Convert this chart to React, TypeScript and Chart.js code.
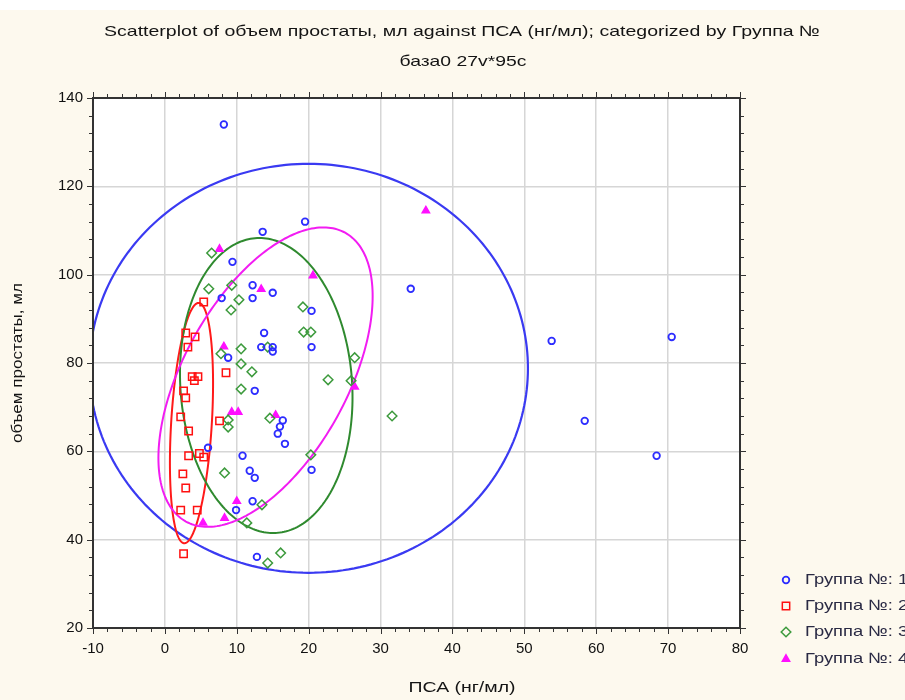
import React, { useEffect, useRef } from 'react';
import { Chart, registerables } from 'chart.js';

Chart.register(...registerables);

// ---------- data ----------
const titleLine1 = 'Scatterplot of объем простаты, мл against ПСА (нг/мл); categorized by Группа №';
const titleLine2 = 'база0 27v*95c';
const xAxisTitle = 'ПСА (нг/мл)';
const yAxisTitle = 'объем простаты, мл';
const groupLabels = ['Группа №: 1', 'Группа №: 2', 'Группа №: 3', 'Группа №: 4'];

const xAxisRange = [-10, 80];
const yAxisRange = [20, 140];
const xTickStep = 10;
const yTickStep = 20;

const group1X = [8.2, 19.5, 13.6, 9.4, 12.2, 12.2, 15.0, 7.9, 34.2, 53.8, 70.5, 13.8, 13.4, 15.0, 15.0, 20.4, 20.4, 8.8, 12.5, 58.4, 68.4, 16.4, 16.0, 15.7, 16.7, 20.4, 6.0, 10.8, 11.8, 12.5, 12.2, 9.9, 12.8];
const group1Y = [134, 112, 109.7, 102.9, 97.6, 94.7, 95.9, 94.7, 96.8, 85.0, 85.9, 86.8, 83.6, 83.6, 82.6, 91.8, 83.6, 81.2, 73.7, 66.9, 59.0, 67.0, 65.6, 64.0, 61.7, 55.8, 60.8, 59.0, 55.6, 54.0, 48.7, 46.7, 36.1];

const group2X = [5.4, 2.9, 4.2, 3.2, 3.8, 4.6, 4.1, 8.5, 2.6, 2.9, 2.2, 7.6, 3.3, 3.3, 4.8, 5.4, 2.5, 2.9, 2.2, 4.5, 2.6];
const group2Y = [93.8, 86.8, 85.9, 83.6, 76.9, 76.9, 76.0, 77.8, 73.7, 72.1, 67.8, 66.9, 64.6, 59.0, 59.5, 58.7, 54.9, 51.7, 46.7, 46.7, 36.8];

const group3X = [6.5, 6.1, 9.3, 10.3, 9.2, 10.6, 7.8, 10.6, 12.1, 10.6, 8.8, 8.8, 14.6, 8.3, 13.5, 11.4, 16.1, 14.3, 19.2, 19.3, 20.3, 14.3, 26.4, 22.7, 25.9, 31.6, 20.3];
const group3Y = [104.9, 96.8, 97.6, 94.3, 92.0, 83.2, 82.1, 79.8, 78.0, 74.1, 67.1, 65.5, 67.5, 55.1, 47.9, 43.8, 37.0, 34.7, 92.7, 87.0, 87.0, 83.6, 81.2, 76.2, 76.0, 68.0, 59.2];

const group4X = [7.6, 13.4, 20.6, 36.3, 26.4, 8.2, 9.3, 10.2, 15.4, 10.0, 8.3, 5.3];
const group4Y = [105.8, 96.7, 99.8, 114.5, 74.6, 83.7, 68.9, 68.9, 68.2, 48.7, 44.9, 43.8];

// confidence ellipses per group: centre, semi-extent in x and y, correlation
const ellipseCX = [20.0, 3.7, 14.1, 14.0];
const ellipseCY = [78.8, 66.4, 74.9, 76.8];
const ellipseAX = [30.5, 3.0, 12.0, 14.9];
const ellipseAY = [46.3, 27.2, 33.4, 33.9];
const ellipseR = [0.0, 0.33, -0.08, 0.54];

// ---------- styles ----------
const FONT = '"Liberation Sans", Arial, sans-serif';
const groupColors = ['#2c2cff', '#ff1010', '#3c9a3c', '#ff10ff'];
const ellipseColors = ['#3a3af2', '#ff1a1a', '#2f8a2f', '#f21cf2'];
const ellipseWidths = [2.2, 2, 2, 2];
const pointStyles = ['circle', 'rect', 'rectRot', 'triangle'];
const pointRadii = [3.3, 5.2, 4.8, 4.2];

const zip = (xs: number[], ys: number[]) => xs.map((x, i) => ({ x, y: ys[i] }));
const groupsX = [group1X, group2X, group3X, group4X];
const groupsY = [group1Y, group2Y, group3Y, group4Y];

function drawMarker(ctx: CanvasRenderingContext2D, g: number, x: number, y: number) {
  const r = pointRadii[g];
  ctx.save();
  ctx.strokeStyle = groupColors[g];
  ctx.fillStyle = groupColors[g];
  ctx.lineWidth = g === 0 ? 1.8 : 1.5;
  ctx.beginPath();
  if (g === 0) {
    ctx.arc(x, y, r, 0, Math.PI * 2);
    ctx.stroke();
  } else if (g === 1) {
    const s = r * Math.SQRT1_2;
    ctx.rect(x - s, y - s, 2 * s, 2 * s);
    ctx.stroke();
  } else if (g === 2) {
    ctx.moveTo(x - r, y);
    ctx.lineTo(x, y - r);
    ctx.lineTo(x + r, y);
    ctx.lineTo(x, y + r);
    ctx.closePath();
    ctx.stroke();
  } else {
    const h = r * 1.5;
    ctx.moveTo(x, y - h * 0.66);
    ctx.lineTo(x + r * 0.87, y + h * 0.34);
    ctx.lineTo(x - r * 0.87, y + h * 0.34);
    ctx.closePath();
    ctx.fill();
    ctx.stroke();
  }
  ctx.restore();
}

function fitText(ctx: CanvasRenderingContext2D, text: string, x: number, y: number, targetW: number, align: CanvasTextAlign) {
  const w = ctx.measureText(text).width;
  const s = targetW / w;
  ctx.save();
  ctx.translate(x, y);
  ctx.scale(s, 1);
  ctx.textAlign = align;
  ctx.fillText(text, 0, 0);
  ctx.restore();
}

const decorPlugin = {
  id: 'decor',
  beforeDraw(chart: any) {
    const { ctx, chartArea: a, width, height } = chart;
    ctx.save();
    ctx.fillStyle = '#fdf9ee';
    ctx.fillRect(0, 0, width, height);
    ctx.fillStyle = '#ffffff';
    ctx.fillRect(a.left, a.top, a.right - a.left, a.bottom - a.top);
    ctx.restore();
  },
  beforeDatasetsDraw(chart: any) {
    const { ctx, chartArea: a, scales } = chart;
    ctx.save();
    ctx.beginPath();
    ctx.rect(a.left, a.top, a.right - a.left, a.bottom - a.top);
    ctx.clip();
    for (let g = 0; g < 4; g++) {
      const cx = ellipseCX[g], cy = ellipseCY[g], ax = ellipseAX[g], ay = ellipseAY[g], r = ellipseR[g];
      const q = Math.sqrt(1 - r * r);
      ctx.beginPath();
      for (let i = 0; i <= 240; i++) {
        const t = (i / 240) * Math.PI * 2;
        const vx = cx + ax * Math.cos(t);
        const vy = cy + ay * (r * Math.cos(t) + q * Math.sin(t));
        const px = scales.x.getPixelForValue(vx);
        const py = scales.y.getPixelForValue(vy);
        if (i === 0) ctx.moveTo(px, py); else ctx.lineTo(px, py);
      }
      ctx.closePath();
      ctx.strokeStyle = ellipseColors[g];
      ctx.lineWidth = ellipseWidths[g];
      ctx.stroke();
    }
    ctx.restore();
  },
  afterDraw(chart: any) {
    const { ctx, chartArea: a, scales } = chart;
    ctx.save();
    // frame
    ctx.strokeStyle = '#333333';
    ctx.lineWidth = 2;
    ctx.strokeRect(a.left, a.top, a.right - a.left, a.bottom - a.top);
    // outward ticks on all sides
    ctx.lineWidth = 1;
    ctx.beginPath();
    for (let v = xAxisRange[0]; v <= xAxisRange[1]; v += 2) {
      const px = Math.round(scales.x.getPixelForValue(v)) + 0.5;
      const len = v % xTickStep === 0 ? 6 : 4;
      ctx.moveTo(px, a.bottom); ctx.lineTo(px, a.bottom + len);
      ctx.moveTo(px, a.top); ctx.lineTo(px, a.top - len);
    }
    for (let v = yAxisRange[0]; v <= yAxisRange[1]; v += 4) {
      const py = Math.round(scales.y.getPixelForValue(v)) + 0.5;
      const len = v % yTickStep === 0 ? 6 : 4;
      ctx.moveTo(a.left, py); ctx.lineTo(a.left - len, py);
      ctx.moveTo(a.right, py); ctx.lineTo(a.right + len, py);
    }
    ctx.stroke();

    // titles
    ctx.fillStyle = '#141414';
    ctx.font = `15px ${FONT}`;
    ctx.textBaseline = 'middle';
    fitText(ctx, titleLine1, 462, 22, 716, 'center');
    fitText(ctx, titleLine2, 463, 52, 127, 'center');
    fitText(ctx, xAxisTitle, 462, 678, 107, 'center');
    ctx.save();
    ctx.translate(18, 353);
    ctx.rotate(-Math.PI / 2);
    fitText(ctx, yAxisTitle, 0, 0, 160, 'center');
    ctx.restore();

    // legend
    const rows = [570, 596, 622, 649];
    ctx.fillStyle = '#2a2a44';
    const base = ctx.measureText('Группа №: ').width;
    const s = 93 / base;
    for (let g = 0; g < 4; g++) {
      drawMarker(ctx, g, 786, rows[g]);
      ctx.save();
      ctx.translate(805, rows[g]);
      ctx.scale(s, 1);
      ctx.textAlign = 'left';
      ctx.fillText(groupLabels[g], 0, 0);
      ctx.restore();
    }
    ctx.restore();
  },
};

export default function App() {
  const ref = useRef<HTMLCanvasElement | null>(null);
  useEffect(() => {
    if (!ref.current) return;
    const datasets = groupsX.map((xs, g) => ({
      label: groupLabels[g],
      data: zip(xs, groupsY[g]),
      pointStyle: pointStyles[g] as any,
      radius: pointRadii[g],
      borderColor: groupColors[g],
      backgroundColor: g === 3 ? groupColors[g] : 'rgba(0,0,0,0)',
      borderWidth: g === 0 ? 1.8 : 1.5,
      showLine: false,
    }));
    const chart = new Chart(ref.current, {
      type: 'scatter',
      data: { datasets },
      options: {
        animation: false,
        responsive: false,
        maintainAspectRatio: false,
        layout: { padding: { left: 0, right: 165, top: 88, bottom: 0 } },
        plugins: { legend: { display: false }, title: { display: false }, tooltip: { enabled: false } },
        scales: {
          x: {
            type: 'linear',
            min: xAxisRange[0],
            max: xAxisRange[1],
            ticks: { stepSize: xTickStep, font: { family: FONT, size: 15 }, color: '#111111', padding: 12, maxRotation: 0 },
            grid: { color: '#d6d6d6', lineWidth: 1.5, drawTicks: false },
            border: { display: false },
            afterFit: (s: any) => { s.height = 72; },
          },
          y: {
            type: 'linear',
            min: yAxisRange[0],
            max: yAxisRange[1],
            ticks: { stepSize: yTickStep, font: { family: FONT, size: 15 }, color: '#111111', padding: 10 },
            grid: { color: '#d6d6d6', lineWidth: 1.5, drawTicks: false },
            border: { display: false },
            afterFit: (s: any) => { s.width = 93; },
          },
        },
      },
      plugins: [decorPlugin],
    });
    return () => chart.destroy();
  }, []);
  return (
    <div style={{ position: 'absolute', left: 0, top: 10, width: 905, height: 690 }}>
      <canvas ref={ref} width={905} height={690} style={{ display: 'block', width: 905, height: 690 }} />
    </div>
  );
}
